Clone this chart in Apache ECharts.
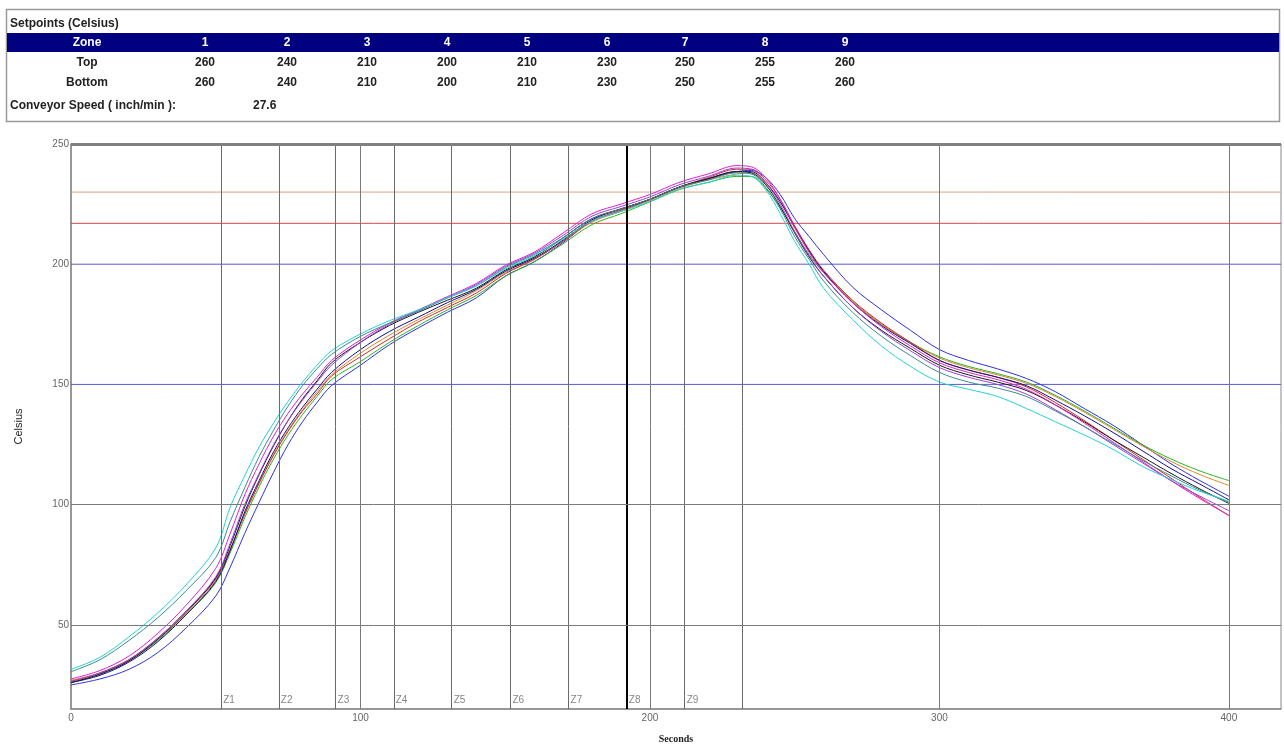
<!DOCTYPE html>
<html><head><meta charset="utf-8">
<script src="https://cdn.jsdelivr.net/npm/echarts@6/dist/echarts.min.js"></script>
<style>html,body{margin:0;padding:0;background:#fff}#c{width:1284px;height:749px}</style>
</head><body><div id="c"></div><script>
// ---------- data ----------
const ZONES = ['1','2','3','4','5','6','7','8','9'];
const TOP_SET = [260,240,210,200,210,230,250,255,260];
const BOTTOM_SET = [260,240,210,200,210,230,250,255,260];
const CONVEYOR_SPEED = '27.6';

const X_TICKS = [0,100,200,300,400];
const Y_TICKS = [50,100,150,200,250];
const LIMIT_LINES = [230, 217, 200, 150];
const ZONE_LABELS = ['Z1','Z2','Z3','Z4','Z5','Z6','Z7','Z8','Z9'];
const ZONE_X = [51.9,71.8,91.4,111.5,131.5,151.8,171.9,192,212];
const ZONE_END = 231.8;

const TIME = [0,10,20,30,40,50,55,60,65,70,75,80,85,90,100,110,120,130,140,150,160,170,180,190,200,210,220,230,235,240,245,250,255,260,270,280,290,300,310,320,330,340,350,360,370,380,390,400];

const P_CYAN = [31.5,36.5,45,55,67, 82,99,112,124,134, 143,151,158,164,171, 176.5,181,186,191,198, 203.5,210.5,218,222,226, 231,234,237,236.5,231, 221,209.5,200,190,177, 166,157.5,151,148,145, 140,134.5,129,123,116, 110.5,105.5,101.5];
const P_TEAL = [30.5,35.5,43.5,53,64.5, 78,93,107,120,131, 141,149.5,156.5,162.5,170, 175.5,180.5,186,191,198.5, 204,211,219,223,227, 232,235,238,237.5,232, 223,211.5,202,193,180, 170,162,155,151,148.5, 145,139,132.5,125.5,118.5, 112,106,101];
const P_MAGENTA = [27.5,31,37,46.5,58.5, 73.5,88,104,117,128.5, 138,146,153,160,168.5, 175.5,181,186.5,192,199.5, 205,213,221,225,229, 234,237.5,241,240.5,236, 227,215.5,205,196.5,184, 174,166,159,155,152, 148,141.5,134,126,118, 110,102.5,95.5];
const P_PURPLE = [26.5,30,35.5,44.5,56, 70,84,100,113,125, 135,143.5,151,158,167.5, 175,180.5,186,191.5,199, 204.5,212,220,224,228, 233,236.5,240,239.5,234, 225,213.5,203.5,195,182, 172,164,157,153,150, 146,139.5,132.5,125,117.5, 110,103.5,97.5];
const P_BLACK = [26,29.5,35,44,55.5, 69.5,83,99,112.5,124.5, 135,144,151.5,159,167.5, 174.5,180,185,190,197.5, 203,211,219,223,227, 232,235.5,238.5,238,233, 224,213,203,195,182, 172.5,165,158,154,151, 147.5,141.5,134.5,127,120, 113,106.5,100.5];
const P_NAVY = [26,29,34.5,43,54.5, 68,81,97,110,122, 132,140.5,148,155,164.5, 172,178,184,189.5,197, 202.5,210,218.5,223,227, 232,235.5,238.5,238.5,234, 226,215.5,205.5,197,184, 174.5,167,160,156,153, 149.5,143.5,137,130,122.5, 115,108.5,102];
const P_ORANGE = [27,30,35.5,44,55, 68.5,81,96,109,121, 131,139.5,147,154,163, 170.5,177,183,189,196.5, 202,209.5,217.5,222,226.5, 231.5,235,237.5,238,233.5, 226,215,205,197,184.5, 175,167.5,161,157,154, 150.5,145,138.5,131.5,124.5, 118,112.5,108];
const P_RED = [26.5,30,35.5,44.5,56, 69,81.5,96,109,120.5, 130.5,139,146,153.5,161.5, 169,176,182,188,196, 202,209.5,218,222.5,227, 232,236,239.5,239.5,235, 227,216,206,197.5,185, 175.5,167.5,160,156,153, 149,142.5,135,127,119, 111,103,95.5];
const P_GREEN = [26,29.5,35,43.5,54.5, 67.5,80,94.5,107.5,119, 129,137.5,145,152,159.5, 167.5,174.5,181,187,195, 201,208.5,216.5,221,226, 231,234,236.5,236.5,231.5, 223.5,213.5,204,196.5,184.5, 175,167.5,161.5,157.5,154.5, 151,145.5,139,132,125, 119,114,110];
const P_BLUE = [25,27.5,31.5,38.5,49, 62,74,88,101,113.5, 125,134.5,142.5,149.5,158, 166.5,173.5,180,186,195, 201,209,218,222,227, 232,235.5,238.5,239,236, 229,219,211.5,204,190.5, 181,172.5,164.5,160,156.5, 152.5,147,140,133,125, 117,110,103.5];

const PROFILES = [P_BLUE, P_GREEN, P_ORANGE, P_RED, P_NAVY, P_BLACK, P_PURPLE, P_MAGENTA, P_TEAL, P_CYAN];

// ---------- styles ----------
const PROFILE_COLORS = ['#3030e0','#28b428','#d88a2a','#e02828','#101090','#1a1a1a','#9a40e0','#e020d0','#3c8c8c','#22d4d4'];
const LIMIT_COLORS = ['#e0a080','#d84848','#5a5ad8','#5a5ad8'];
const FONT = 'Liberation Sans, Arial, sans-serif';
const X_MAX = 418;

const chart = echarts.init(document.getElementById('c'), null, {renderer:'canvas'});

// table layout
const COL_X = [205,287,367,447,527,607,685,765,845];
const graphics = [
  {type:'rect', shape:{x:6.5,y:9.5,width:1273,height:112}, style:{fill:'none', stroke:'#9a9a9a', lineWidth:1.5}},
  {type:'rect', shape:{x:7,y:33,width:1272,height:19}, style:{fill:'#000080'}},
  {type:'text', x:10, y:24, style:{text:'Setpoints (Celsius)', font:'bold 12px '+FONT, fill:'#222', textVerticalAlign:'middle'}},
  {type:'text', x:87, y:43, style:{text:'Zone', font:'bold 12px '+FONT, fill:'#fff', textAlign:'center', textVerticalAlign:'middle'}},
  {type:'text', x:87, y:63, style:{text:'Top', font:'bold 12px '+FONT, fill:'#222', textAlign:'center', textVerticalAlign:'middle'}},
  {type:'text', x:87, y:83, style:{text:'Bottom', font:'bold 12px '+FONT, fill:'#222', textAlign:'center', textVerticalAlign:'middle'}},
  {type:'text', x:10, y:106, style:{text:'Conveyor Speed ( inch/min ):', font:'bold 12px '+FONT, fill:'#222', textVerticalAlign:'middle'}},
  {type:'text', x:253, y:106, style:{text:CONVEYOR_SPEED, font:'bold 12px '+FONT, fill:'#222', textVerticalAlign:'middle'}}
];
ZONES.forEach((z,i)=>{
  graphics.push({type:'text', x:COL_X[i], y:43, style:{text:z, font:'bold 12px '+FONT, fill:'#fff', textAlign:'center', textVerticalAlign:'middle'}});
  graphics.push({type:'text', x:COL_X[i], y:63, style:{text:String(TOP_SET[i]), font:'bold 12px '+FONT, fill:'#222', textAlign:'center', textVerticalAlign:'middle'}});
  graphics.push({type:'text', x:COL_X[i], y:83, style:{text:String(BOTTOM_SET[i]), font:'bold 12px '+FONT, fill:'#222', textAlign:'center', textVerticalAlign:'middle'}});
});

// grid / reference lines
const markData = [];
X_TICKS.forEach(v=>{ if(v>0) markData.push({xAxis:v, lineStyle:{color:'#7a7a7a', width:1, type:'solid'}}); });
ZONE_X.forEach((v,i)=>{ markData.push({xAxis:v, lineStyle:{color: i===7?'#000':'#6a6a6a', width: i===7?2:1, type:'solid'}}); });
markData.push({xAxis:ZONE_END, lineStyle:{color:'#6a6a6a', width:1, type:'solid'}});
Y_TICKS.forEach(v=>{ if(v<150) markData.push({yAxis:v, lineStyle:{color:'#7a7a7a', width:1, type:'solid'}}); });
markData.push({yAxis:250, lineStyle:{color:'#808080', width:3, type:'solid'}});

const series = [{
  type:'line', data:[], z:1, silent:true,
  markLine:{silent:true, symbol:['none','none'], label:{show:false}, animation:false, data:markData}
},{
  type:'scatter', z:3, symbolSize:0, silent:true,
  data: ZONE_X.map((x,i)=>({value:[x,15], name:ZONE_LABELS[i]})),
  label:{show:true, formatter:p=>p.name, position:[2,-14], color:'#666', fontSize:10, fontFamily:FONT}
}];
LIMIT_LINES.forEach((v,i)=>{
  series.push({type:'line', z:1, silent:true, showSymbol:false,
    lineStyle:{color:LIMIT_COLORS[i], width:1},
    data:[[0,v],[X_MAX,v]]});
});
PROFILES.forEach((arr,k)=>{
  series.push({type:'line', z:2, showSymbol:false, smooth:0.35, silent:true,
    lineStyle:{width:1, color:PROFILE_COLORS[k]},
    data: TIME.map((t,i)=>[t, arr[i]])});
});

chart.setOption({
  animation:false,
  backgroundColor:'#fff',
  graphic: graphics,
  grid:{left:71, right:1, top:144, bottom:37, show:true, borderColor:'#8a8a8a', borderWidth:1},
  xAxis:{type:'value', min:0, max:X_MAX, interval:100,
    axisLine:{lineStyle:{color:'#888', width:1.5}}, axisTick:{show:false}, splitLine:{show:false},
    axisLabel:{color:'#666', fontSize:10, margin:4, fontFamily:FONT, formatter:v=> (v%100===0? String(v):'')},
    name:'Seconds', nameLocation:'middle', nameGap:25,
    nameTextStyle:{fontFamily:'Liberation Serif, serif', fontWeight:'bold', fontSize:10, color:'#222'}},
  yAxis:{type:'value', min:15, max:250, interval:5,
    axisLine:{show:true, lineStyle:{color:'#888', width:1.5}}, axisTick:{show:false}, splitLine:{show:false},
    axisLabel:{color:'#666', fontSize:10, margin:2, fontFamily:FONT, formatter:v=> (Y_TICKS.indexOf(v)>=0? String(v):'')},
    name:'Celsius', nameLocation:'middle', nameGap:47, nameRotate:90,
    nameTextStyle:{fontFamily:FONT, fontSize:11, color:'#222'}},
  series: series
});
</script></body></html>
